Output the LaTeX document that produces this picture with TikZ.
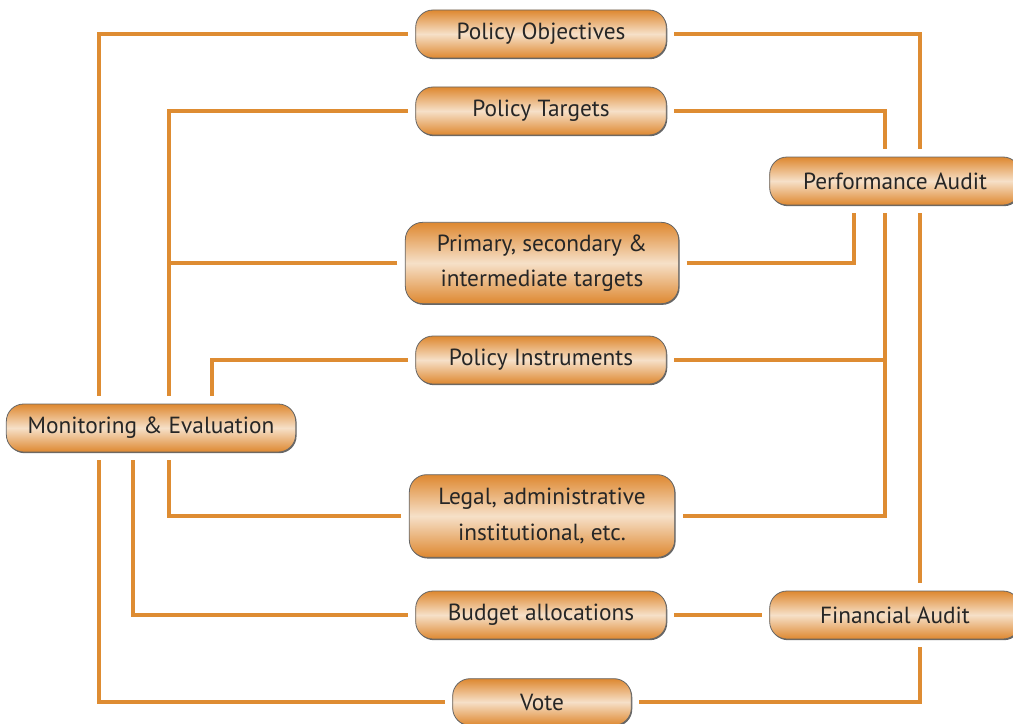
\documentclass[tikz,border=0pt]{standalone}
\usepackage{fontspec}
\setmainfont{PT Sans}
\usepackage{tikz}
\usetikzlibrary{shadows}
\definecolor{linkorange}{RGB}{222,140,50}
\definecolor{boxorange}{RGB}{222,136,48}
\definecolor{boxlight}{RGB}{246,224,200}
\tikzset{
	box/.style={rounded corners=13pt, draw=black!60, line width=0.6pt,
		top color=boxorange, bottom color=boxorange, middle color=boxlight,
		drop shadow={shadow xshift=0.7pt, shadow yshift=-0.9pt, fill=black!75, opacity=0.8},
		minimum width=188pt, minimum height=36pt, inner sep=0pt, outer sep=6pt,
		align=center, text=black!85, font=\fontsize{17.5}{26.5}\selectfont},
	link/.style={draw=linkorange, line width=3.6pt}
}
\begin{document}
\begin{tikzpicture}[x=0.75pt, y=-0.75pt]
	\useasboundingbox (0,0) rectangle (1013,724);
	\node [box] (obj) at (541,34) {Policy Objectives};
	\node [box] (tgt) at (541,111) {Policy Targets};
	\node [box] (perf) at (895,181) {Performance Audit};
	\node [box, minimum width=205pt, minimum height=61pt] (prim) at (542,263)
		{Primary, secondary \&\\intermediate targets};
	\node [box] (instr) at (541,360) {Policy Instruments};
	\node [box, minimum width=217pt] (me) at (151,428) {Monitoring \& Evaluation};
	\node [box, minimum width=199pt, minimum height=62pt] (legal) at (542,516)
		{Legal, administrative\\institutional, etc.};
	\node [box] (budget) at (541,615) {Budget allocations};
	\node [box] (fin) at (895,615) {Financial Audit};
	\node [box, minimum width=134pt, minimum height=35pt] (vote) at (542,702) {Vote};
	\coordinate (lA) at (99,0);
	\coordinate (lB) at (133,0);
	\coordinate (lC) at (169,0);
	\coordinate (lD) at (212,0);
	\coordinate (rA) at (854,0);
	\coordinate (rB) at (885,0);
	\coordinate (rC) at (920,0);
	\draw [link] (obj.west) -| (me.north -| lA);
	\draw [link] (me.south -| lA) |- (vote.west);
	\draw [link] (tgt.west) -| (me.north -| lC);
	\draw [link] (prim.west) -- (prim.west -| lC);
	\draw [link] (instr.west) -| (me.north -| lD);
	\draw [link] (me.south -| lC) |- (legal.west);
	\draw [link] (me.south -| lB) |- (budget.west);
	\draw [link] (obj.east) -| (perf.north -| rC);
	\draw [link] (tgt.east) -| (perf.north -| rB);
	\draw [link] (prim.east) -| (perf.south -| rA);
	\draw [link] (perf.south -| rB) |- (legal.east);
	\draw [link] (instr.east) -- (instr.east -| rB);
	\draw [link] (perf.south -| rC) -- (fin.north -| rC);
	\draw [link] (budget.east) -- (fin.west);
	\draw [link] (vote.east) -| (fin.south -| rC);
\end{tikzpicture}
\end{document}
